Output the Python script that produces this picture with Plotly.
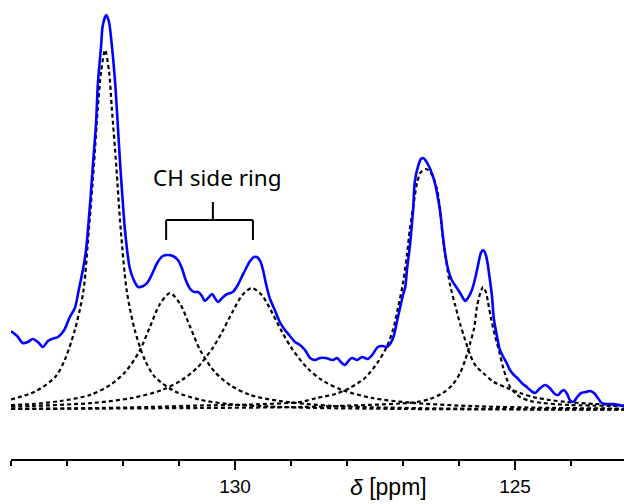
import plotly.graph_objects as go

# ---------------- data ----------------
# experimental spectrum (chemical shift in ppm, intensity in arbitrary units)
exp_ppm = [134.00,133.89,133.79,133.70,133.61,133.52,133.43,133.34,133.27,133.16,
           133.05,132.95,132.86,132.79,132.71,132.66,132.59,132.54,132.48,132.45,
           132.39,132.36,132.30,132.25,132.20,132.14,132.09,132.05,132.00,131.96,
           131.88,131.80,131.73,131.64,131.57,131.48,131.39,131.29,131.20,131.11,
           131.02,130.95,130.88,130.80,130.73,130.66,130.59,130.54,130.48,130.41,
           130.36,130.30,130.23,130.14,130.04,129.95,129.88,129.80,129.73,129.66,
           129.61,129.55,129.50,129.45,129.38,129.29,129.20,129.11,129.02,128.93,
           128.84,128.75,128.66,128.57,128.48,128.38,128.25,128.18,128.11,128.04,
           127.96,127.91,127.82,127.73,127.63,127.55,127.45,127.36,127.29,127.21,
           127.16,127.11,127.05,127.00,126.96,126.93,126.88,126.82,126.79,126.73,
           126.68,126.64,126.59,126.54,126.48,126.43,126.38,126.34,126.29,126.25,
           126.20,126.13,126.05,125.98,125.93,125.89,125.84,125.77,125.71,125.66,
           125.61,125.57,125.54,125.50,125.46,125.41,125.38,125.32,125.27,125.21,
           125.14,125.09,125.02,124.96,124.88,124.79,124.71,124.64,124.55,124.46,
           124.38,124.29,124.23,124.18,124.13,124.07,124.02,123.96,123.89,123.82,
           123.73,123.66,123.59,123.52,123.45,123.34,123.25,123.16,123.05]
exp_int = [79,74,67,68,71,68,63,69,71,73,
           80,93,102,120,142,160,205,243,288,325,
           365,385,395,388,365,327,282,245,205,177,
           142,129,123,124,127,136,147,154,155,154,
           150,142,130,121,118,118,114,109,112,116,
           112,108,112,116,118,125,133,142,149,153,
           153,149,140,127,112,100,88,80,74,68,
           65,60,52,50,52,52,50,52,48,45,
           50,52,50,53,51,55,63,64,63,68,
           75,88,103,115,123,140,163,200,228,244,
           251,252,249,244,236,227,213,200,175,157,
           142,130,123,117,112,109,112,120,132,145,
           157,160,158,150,135,113,92,73,60,53,
           46,40,35,32,27,23,19,17,22,25,
           22,16,15,18,20,16,10,8,13,17,
           18,19,17,12,7,6,6,5,4]

# fitted components
p1_ppm = [134.00,133.57,133.21,133.04,132.86,132.71,132.61,132.52,132.45,132.39,
          132.32,132.25,132.20,132.12,132.04,131.93,131.79,131.61,131.43,131.07,
          130.64,130.09,128.84,127.05,124.91,123.05]
p1_int = [10.5,18.5,33,50,80,118,180,244,302,339,
          360,339,302,244,180,118,80,50,33,18.5,
          10.5,5.8,2.4,1.1,0.5,0.3]

p2_ppm = [134.00,133.61,133.12,132.59,132.23,131.96,131.71,131.52,131.34,131.16,
          130.98,130.80,130.61,130.36,130.09,129.73,129.20,128.30,126.70,123.05]
p2_int = [5,6,9,15,25,38,58.5,83,106,117,
          106,83,58.5,38,25,15,9,4.2,1.8,0.5]

p3_ppm = [134.00,133.62,132.55,131.84,131.30,130.95,130.68,130.41,130.23,130.05,
          129.87,129.70,129.52,129.34,129.16,128.98,128.71,128.45,128.09,127.55,
          126.84,125.77,124.34,123.05]
p3_int = [3.3,4,7,12,20,30,42,61,78,97.6,
          114.8,122,114.8,97.6,78,61,42,30,20,12,
          7.2,3.9,2.1,1.4]

p4_ppm = [134.00,132.41,131.52,130.62,129.73,128.84,128.54,128.21,127.95,127.68,
          127.46,127.30,127.18,127.09,127.00,126.93,126.88,126.80,126.75,126.68,
          126.59,126.50,126.39,126.34,126.29,126.23,126.16,126.07,125.98,125.89,
          125.80,125.70,125.57,125.38,125.14,124.91,124.68,124.38,124.07,123.57,
          123.05]
p4_int = [1,2,3,4.5,5.5,8,12,16,22,32,
          47,62,80,102,127,155,180,210,227,238,
          241,237,220,200,173,150,125,105,86,70,
          55,44,37,28,22,17,13,10,8,6,
          5]

p5_ppm = [134.00,130.62,128.84,127.64,127.05,126.75,126.52,126.29,126.12,125.98,
          125.89,125.80,125.73,125.68,125.62,125.57,125.52,125.48,125.43,125.36,
          125.28,125.21,125.14,125.09,125.00,124.91,124.73,124.50,124.02,123.05]
p5_int = [1,2,3,5,6.5,8,11,17,25,37,
          50,67,82,103,117,123,118,107,92,75,
          58,42,30,23,17,13,9,7,5,4]

# x-axis ticks
major_ticks = [130, 125]
major_labels = ["130", "125"]

# annotation: CH side ring pair
side_ring_ppm = [131.23, 129.68]
side_ring_label = "CH side ring"
x_title = "<i>δ</i> [ppm]"

# ---------------- figure ----------------
fig = go.Figure()

dash_style = dict(color="black", width=2.2, dash="4px,3px")
for xs, ys in [(p1_ppm, p1_int), (p2_ppm, p2_int), (p3_ppm, p3_int),
               (p4_ppm, p4_int), (p5_ppm, p5_int)]:
    fig.add_trace(go.Scatter(x=xs, y=ys, mode="lines",
                             line=dict(shape="spline", smoothing=0.8, **dash_style),
                             hoverinfo="skip", showlegend=False))

fig.add_trace(go.Scatter(x=exp_ppm, y=exp_int, mode="lines",
                         line=dict(color="#0000FF", width=2.6, shape="spline", smoothing=0.8),
                         showlegend=False))

# bracket for CH side ring
br_top = 190
br_leg = 170
br_stem = 208
xl, xr = side_ring_ppm
xm = (xl + xr) / 2 - 0.06
bracket_line = dict(color="black", width=2)
fig.add_shape(type="line", x0=xl, x1=xr, y0=br_top, y1=br_top, line=bracket_line)
fig.add_shape(type="line", x0=xl, x1=xl, y0=br_top, y1=br_leg, line=bracket_line)
fig.add_shape(type="line", x0=xr, x1=xr, y0=br_top, y1=br_leg, line=bracket_line)
fig.add_shape(type="line", x0=xm, x1=xm, y0=br_top, y1=br_stem, line=bracket_line)

fig.add_annotation(x=xm - 0.09, y=233, text=side_ring_label, showarrow=False,
                   xanchor="center", yanchor="middle",
                   font=dict(family="Noto Sans", size=22.5, color="black"))

fig.add_annotation(x=0.6166, y=-0.06, xref="paper", yref="paper",
                   text=x_title, showarrow=False, xanchor="center", yanchor="middle",
                   font=dict(family="Liberation Sans, Arial", size=23, color="black"))

fig.update_layout(
    width=624, height=504,
    margin=dict(l=11, r=0, t=0, b=45),
    paper_bgcolor="white", plot_bgcolor="white",
    showlegend=False,
    xaxis=dict(range=[134, 123.054], showgrid=False, zeroline=False,
               showline=True, linecolor="black", linewidth=2,
               ticks="outside", ticklen=9, tickwidth=2, tickcolor="black",
               tickvals=major_ticks, ticktext=major_labels,
               tickfont=dict(family="Liberation Sans, Arial", size=19, color="black"),
               minor=dict(dtick=1, tick0=125, ticks="outside", ticklen=5,
                          tickwidth=2, tickcolor="black", showgrid=False)),
    yaxis=dict(range=[-49, 410], visible=False, showgrid=False, zeroline=False),
)

fig.write_html("out.html")
